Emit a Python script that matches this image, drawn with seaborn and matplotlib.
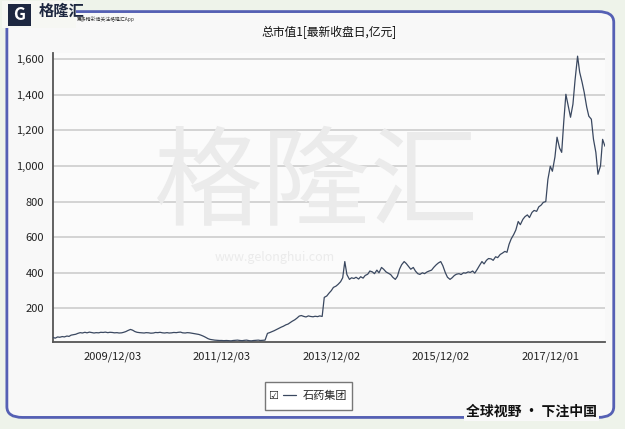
import matplotlib.pyplot as plt
import matplotlib.ticker as mticker
from matplotlib.patches import FancyBboxPatch, Rectangle
from matplotlib.lines import Line2D
import seaborn as sns
import pandas as pd

# Semi-monthly total market cap (亿元), 2008/11 .. 2018/12
cap_2008 = [37, 33, 40, 38]
cap_2009 = [42, 40, 45, 43, 50, 52, 55, 60, 64, 62, 66, 63, 67, 65, 62, 64, 63, 66, 65, 67, 64, 66, 65, 63]
cap_2010 = [64, 62, 63, 66, 70, 76, 82, 78, 70, 66, 64, 63, 62, 64, 63, 61, 62, 65, 64, 66, 63, 62, 64, 62]
cap_2011 = [63, 65, 64, 66, 67, 63, 62, 64, 63, 61, 58, 56, 54, 50, 44, 38, 30, 26, 24, 22, 21, 20, 20, 19]
cap_2012 = [20, 19, 18, 20, 21, 22, 20, 19, 21, 22, 19, 18, 20, 21, 22, 20, 21, 22, 60, 64, 70, 75, 82, 88]
cap_2013 = [95, 100, 108, 112, 120, 128, 136, 145, 157, 160, 155, 152, 158, 155, 153, 156, 154, 158, 155, 262, 270, 285, 300, 318]
cap_2014 = [325, 335, 350, 372, 463, 390, 363, 372, 368, 375, 365, 378, 370, 385, 392, 410, 405, 395, 415, 400, 430, 420, 405, 398]
cap_2015 = [390, 375, 363, 380, 420, 445, 463, 452, 435, 420, 430, 410, 395, 391, 400, 395, 405, 410, 415, 430, 445, 455, 463, 440]
cap_2016 = [400, 375, 363, 372, 385, 392, 395, 390, 400, 398, 405, 402, 410, 398, 420, 440, 463, 450, 470, 480, 478, 470, 490, 485]
cap_2017 = [503, 510, 520, 515, 560, 590, 615, 640, 688, 670, 700, 715, 725, 710, 739, 750, 745, 770, 780, 795, 800, 924, 998, 970]
cap_2018 = [1050, 1161, 1100, 1076, 1250, 1402, 1330, 1273, 1346, 1480, 1616, 1526, 1470, 1414, 1330, 1279, 1262, 1150, 1076, 953, 1000, 1149, 1110]

market_cap = (cap_2008 + cap_2009 + cap_2010 + cap_2011 + cap_2012 + cap_2013
              + cap_2014 + cap_2015 + cap_2016 + cap_2017 + cap_2018)
dates = pd.date_range("2008-11-01", "2018-12-01", freq="SMS")

series_name = "石药集团"
tick_dates = ["2009-12-03", "2011-12-03", "2013-12-02", "2015-12-02", "2017-12-01"]
tick_labels = ["2009/12/03", "2011/12/03", "2013/12/02", "2015/12/02", "2017/12/01"]
y_ticks = [200, 400, 600, 800, 1000, 1200, 1400, 1600]

df = pd.DataFrame({"date": dates, "cap": market_cap})

sns.set_theme(style="white")
plt.rcParams["font.family"] = ["Noto Sans CJK SC", "DejaVu Sans"]

fig = plt.figure(figsize=(6.25, 4.29), dpi=100, facecolor="#eef3ea")

# rounded blue frame (behind everything)
frame = FancyBboxPatch((0.011, 0.027), 0.971, 0.946, boxstyle="round,pad=0,rounding_size=0.025",
                       transform=fig.transFigure, facecolor="#f8f8f8", edgecolor="#5560b4",
                       linewidth=2.0, zorder=-10)
fig.patches.append(frame)

ax = fig.add_axes([0.085, 0.203, 0.883, 0.674])
ax.set_facecolor("#fbfbfb")

# watermark inside the axes layer
ax.text(0.506, 0.565, "格隆汇", ha="center", va="center", fontsize=78, color="#ebebeb",
        fontweight="light", transform=fig.transFigure, zorder=1)
ax.text(0.44, 0.40, "www.gelonghui.com", ha="center", va="center", fontsize=9,
        color="#ebebeb", transform=fig.transFigure, zorder=1)

sns.lineplot(data=df, x="date", y="cap", ax=ax, color="#3a4860", linewidth=0.9, zorder=3)

ax.set_xlim(dates[0], dates[-1])
ax.set_ylim(12, 1635)
ax.set_yticks(y_ticks)
ax.yaxis.set_major_formatter(mticker.StrMethodFormatter("{x:,.0f}"))
ax.set_xticks(pd.to_datetime(tick_dates))
ax.set_xticklabels(tick_labels)
ax.set_xlabel("")
ax.set_ylabel("")
ax.yaxis.grid(True, color="#d3d3d3", linewidth=1.4)
ax.xaxis.grid(False)
for s in ["top", "right"]:
    ax.spines[s].set_visible(False)
for s in ["left", "bottom"]:
    ax.spines[s].set_color("#555555")
    ax.spines[s].set_linewidth(1.3)
ax.tick_params(axis="both", labelsize=8, colors="#222222", length=3, width=0.8, direction="out")
ax.tick_params(axis="x", pad=4)

ax.set_title("总市值1[最新收盘日,亿元]", fontsize=8.5, color="#111111", pad=12)

# legend box with checkbox
fig.patches.append(Rectangle((265 / 625, 1 - 410 / 429), 87 / 625, 28 / 429, transform=fig.transFigure,
                             facecolor="white", edgecolor="#777777", linewidth=1.0, zorder=2))
fig.text(273 / 625, 1 - 396 / 429, "☑", fontsize=8, va="center", ha="center", color="#222222",
         family=["DejaVu Sans"])
handle = Line2D([], [], color="#3a4860", linewidth=0.9)
fig.legend([handle], [series_name], loc="center left", bbox_to_anchor=(277 / 625, 1 - 396 / 429),
           frameon=False, fontsize=8, handlelength=1.2, handletextpad=0.6, borderpad=0)

# logo (with a light patch hiding the frame line behind it)
fig.patches.append(Rectangle((2 / 625, 1 - 28 / 429), 74 / 625, 27 / 429, transform=fig.transFigure,
                             facecolor="#f6f7f3", edgecolor="none", zorder=2.5))
fig.patches.append(Rectangle((8 / 625, 1 - 26 / 429), 23 / 625, 22 / 429, transform=fig.transFigure,
                             facecolor="#1d2740", edgecolor="none", zorder=3))
fig.text(19.5 / 625, 1 - 15 / 429, "G", fontsize=12, fontweight="bold", color="white",
         ha="center", va="center", zorder=4)
fig.text(39 / 625, 1 - 11 / 429, "格隆汇", fontsize=11, fontweight="bold", color="#1d2740",
         ha="left", va="center", zorder=4)
fig.text(77 / 625, 1 - 19 / 429, "更多精彩请关注格隆汇App", fontsize=3.5, color="#333333",
         ha="left", va="center", zorder=4)

# slogan bottom right
fig.text(0.955, 0.04, "全球视野 · 下注中国", fontsize=10, fontweight="bold", color="#111111",
         ha="right", va="center",
         bbox=dict(facecolor="#f8f8f8", edgecolor="none", pad=1.5))

fig.savefig("out.png", dpi=100, facecolor=fig.get_facecolor())
